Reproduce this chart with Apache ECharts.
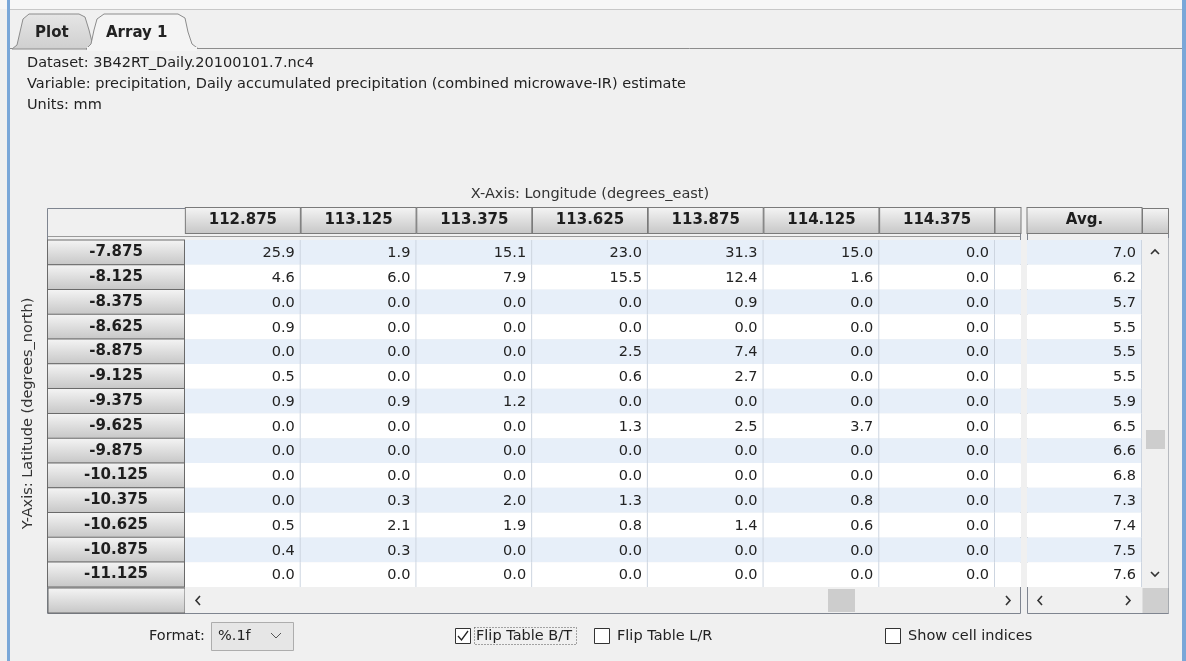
<!DOCTYPE html>
<html>
<head>
<meta charset="utf-8">
<script src="https://cdn.jsdelivr.net/npm/echarts@6/dist/echarts.min.js"></script>
<style>
html, body { margin: 0; padding: 0; background: #f0f0f0; }
#grafiek { width: 1186px; height: 661px; }
</style>
</head>
<body>
<div id="grafiek"></div>
<script>
// lengtegraden (kolommen) en breedtegraden (rijen)
let lengtes = ['112.875', '113.125', '113.375', '113.625', '113.875', '114.125', '114.375'];
let breedtes = ['-7.875', '-8.125', '-8.375', '-8.625', '-8.875', '-9.125', '-9.375',
    '-9.625', '-9.875', '-10.125', '-10.375', '-10.625', '-10.875', '-11.125'];

// neerslag in mm, een rij per breedtegraad
let neerslag = [
    [25.9, 1.9, 15.1, 23.0, 31.3, 15.0, 0.0],
    [4.6, 6.0, 7.9, 15.5, 12.4, 1.6, 0.0],
    [0.0, 0.0, 0.0, 0.0, 0.9, 0.0, 0.0],
    [0.9, 0.0, 0.0, 0.0, 0.0, 0.0, 0.0],
    [0.0, 0.0, 0.0, 2.5, 7.4, 0.0, 0.0],
    [0.5, 0.0, 0.0, 0.6, 2.7, 0.0, 0.0],
    [0.9, 0.9, 1.2, 0.0, 0.0, 0.0, 0.0],
    [0.0, 0.0, 0.0, 1.3, 2.5, 3.7, 0.0],
    [0.0, 0.0, 0.0, 0.0, 0.0, 0.0, 0.0],
    [0.0, 0.0, 0.0, 0.0, 0.0, 0.0, 0.0],
    [0.0, 0.3, 2.0, 1.3, 0.0, 0.8, 0.0],
    [0.5, 2.1, 1.9, 0.8, 1.4, 0.6, 0.0],
    [0.4, 0.3, 0.0, 0.0, 0.0, 0.0, 0.0],
    [0.0, 0.0, 0.0, 0.0, 0.0, 0.0, 0.0]
];

// gemiddelde per rij (kolom Avg.)
let gemiddelde = [7.0, 6.2, 5.7, 5.5, 5.5, 5.5, 5.9, 6.5, 6.6, 6.8, 7.3, 7.4, 7.5, 7.6];

let infoRegels = [
    'Dataset: 3B42RT_Daily.20100101.7.nc4',
    'Variable: precipitation, Daily accumulated precipitation (combined microwave-IR) estimate',
    'Units: mm'
];

const FONT = '"DejaVu Sans", Verdana, sans-serif';

function kopKleur() {
    return new echarts.graphic.LinearGradient(0, 0, 0, 1, [
        { offset: 0, color: '#f5f5f5' },
        { offset: 1, color: '#c6c6c6' }
    ]);
}

function kopLabel(breedte, hoogte) {
    return {
        fontFamily: FONT, fontWeight: 'bold', fontSize: 15, color: '#1e1e1e',
        width: breedte, height: hoogte, lineHeight: hoogte, align: 'center', verticalAlign: 'middle',
        backgroundColor: kopKleur(), borderColor: '#7a7a7a', borderWidth: 1
    };
}

// cellen met waarde rechts uitgelijnd en een dunne kolomlijn
function tekenCel(params, api) {
    let p = api.coord([api.value(0), api.value(1)]);
    let s = api.size([1, 1]);
    let rechts = p[0] + s[0] / 2;
    return {
        type: 'group',
        children: [
            { type: 'line', shape: { x1: rechts - 0.5, y1: p[1] - s[1] / 2, x2: rechts - 0.5, y2: p[1] + s[1] / 2 },
              style: { stroke: '#cdd5e0', lineWidth: 1 } },
            { type: 'text', style: { text: api.value(2).toFixed(1), x: rechts - 6, y: p[1] + 1,
              align: 'right', verticalAlign: 'middle', font: '14.5px ' + FONT, fill: '#222' } }
        ]
    };
}

function toonTabel() {
    let grafiek = echarts.init(document.getElementById('grafiek'), null, { renderer: 'canvas' });

    let cellen = [];
    neerslag.forEach((rij, r) => rij.forEach((v, k) => cellen.push([k, r, v])));
    let gemCellen = gemiddelde.map((v, r) => [0, r, v]);

    let strepen = { show: true, areaStyle: { color: ['#e7eff9', '#ffffff'], opacity: 1 } };
    let rijAs = (idx, labels, naam) => ({
        type: 'category', gridIndex: idx, data: breedtes, inverse: true,
        axisLine: { show: false }, axisTick: { show: false }, splitLine: { show: false },
        splitArea: Object.assign({ interval: 0 }, strepen),
        axisLabel: labels ? {
            margin: 1, interval: 0, showMinLabel: true, showMaxLabel: true, hideOverlap: false,
            formatter: v => '{k|' + v + '}',
            rich: { k: Object.assign(kopLabel(136, 24), { borderColor: '#6a6a6a' }) }
        } : { show: false },
        name: naam || '', nameLocation: 'middle', nameGap: 141, nameRotate: 90,
        nameTextStyle: { fontFamily: FONT, fontSize: 14.5, color: '#333' }
    });
    let kolomAs = (idx, data, breedte, naam) => ({
        type: 'category', gridIndex: idx, data: data, position: 'top',
        axisLine: { show: false }, axisTick: { show: false },
        axisLabel: { margin: 7, interval: 0, formatter: v => '{k|' + v + '}', rich: { k: kopLabel(breedte, 25) } },
        name: naam || '', nameLocation: 'middle', nameGap: 38,
        nameTextStyle: { fontFamily: FONT, fontSize: 14.5, color: '#333' }
    });

    let option = {
        backgroundColor: '#f0f0f0',
        animation: false,
        grid: [
            { left: 185, top: 240, width: 810, height: 347 },
            { left: 995, top: 240, width: 26, height: 347 },
            { left: 1027, top: 240, width: 115, height: 347 }
        ],
        xAxis: [
            kolomAs(0, lengtes, 114, 'X-Axis: Longitude (degrees_east)'),
            kolomAs(1, [''], 25),
            kolomAs(2, ['Avg.'], 114)
        ],
        yAxis: [
            rijAs(0, true, 'Y-Axis: Latitude (degrees_north)'),
            rijAs(1, false),
            rijAs(2, false)
        ],
        series: [
            { type: 'custom', xAxisIndex: 0, yAxisIndex: 0, data: cellen, renderItem: tekenCel, silent: true },
            { type: 'custom', xAxisIndex: 2, yAxisIndex: 2, data: gemCellen, renderItem: tekenCel, silent: true }
        ],
        graphic: maakOmlijsting()
    };
    grafiek.setOption(option);
}

// tabbladen, infotekst, schuifbalken en knoppen onderaan
function maakOmlijsting() {
    let tekst = (x, y, t, extra) => ({
        type: 'text', x: x, y: y,
        style: Object.assign({ text: t, font: '14.5px ' + FONT, fill: '#222', verticalAlign: 'middle' }, extra || {})
    });
    let vak = (x, y, w, h, fill, stroke) => ({
        type: 'rect', shape: { x: x, y: y, width: w, height: h },
        style: { fill: fill, stroke: stroke || null, lineWidth: 1 }
    });
    let lijn = (x1, y1, x2, y2, kleur) => ({
        type: 'line', shape: { x1: x1, y1: y1, x2: x2, y2: y2 }, style: { stroke: kleur, lineWidth: 1 }
    });
    let pijl = (punten) => ({
        type: 'polyline', shape: { points: punten }, style: { stroke: '#333', lineWidth: 1.6, fill: null }
    });
    let vinkje = (x, y, aan) => {
        let el = [vak(x + 0.5, y + 0.5, 15, 15, '#ffffff', '#333')];
        if (aan) el.push({ type: 'polyline', shape: { points: [[x + 3, y + 8], [x + 6.5, y + 12], [x + 13, y + 3]] },
            style: { stroke: '#222', lineWidth: 1.3, fill: null } });
        return el;
    };

    let els = [
        // bovenkant venster en blauwe randen
        vak(0, 0, 1186, 9, '#f7f7f7'),
        lijn(10, 9.5, 1182, 9.5, '#c8c8c8'),
        vak(7, 0, 3, 661, '#7aa7d8'),
        vak(1182, 0, 4, 661, '#7aa7d8'),
        // tabbladen
        { type: 'polygon', shape: { points: [[12, 49], [17, 45], [20, 32], [23, 19], [29, 14], [79, 14], [85, 17], [89, 30], [92, 42], [96, 49]] },
          style: { fill: new echarts.graphic.LinearGradient(0, 0, 0, 1, [{ offset: 0, color: '#e6e6e6' }, { offset: 1, color: '#cfcfcf' }]), stroke: '#8c8c8c' } },
        { type: 'polygon', shape: { points: [[86, 49], [91, 44], [94, 30], [97, 19], [104, 14], [178, 14], [185, 18], [188, 32], [192, 44], [198, 48.5]] },
          style: { fill: '#f4f4f4', stroke: '#8c8c8c' } },
        vak(87, 47, 110, 4, '#f4f4f4'),
        lijn(197, 48.5, 1182, 48.5, '#8c8c8c'),
        lijn(10, 48.5, 12, 48.5, '#8c8c8c'),
        tekst(35, 33, 'Plot', { font: 'bold 15px ' + FONT }),
        tekst(106, 33, 'Array 1', { font: 'bold 15px ' + FONT })
    ];
    infoRegels.forEach((r, i) => els.push(tekst(27, 63 + i * 21, r)));

    // buitenranden tabellen
    els.push(vak(47.5, 208.5, 973, 405, null, '#7f8590'));
    els.push(vak(1027.5, 208.5, 141, 405, null, '#7f8590'));
    els.push(lijn(48, 236.5, 1020, 236.5, '#9a9a9a'));
    els.push(vak(1142.5, 208.5, 26, 25, kopKleur(), '#7a7a7a'));

    // verticale schuifbalk naast Avg.
    els.push(vak(1142.5, 238, 26, 350, '#f0f0f0'));
    els.push(vak(1146, 430, 19, 19, '#cdcdcd'));
    els.push(pijl([[1151, 254], [1155, 250], [1159, 254]]));
    els.push(pijl([[1151, 572], [1155, 576], [1159, 572]]));

    // horizontale schuifbalken
    els.push(vak(48, 588, 137, 25, kopKleur(), '#6a6a6a'));
    els.push(vak(185, 588, 835, 25, '#f0f0f0'));
    els.push(vak(828, 589, 27, 23, '#cdcdcd'));
    els.push(pijl([[200, 596], [196, 600.5], [200, 605]]));
    els.push(pijl([[1006, 596], [1010, 600.5], [1006, 605]]));
    els.push(vak(1028, 588, 114, 25, '#f0f0f0'));
    els.push(pijl([[1042, 596], [1038, 600.5], [1042, 605]]));
    els.push(pijl([[1126, 596], [1130, 600.5], [1126, 605]]));
    els.push(vak(1142.5, 588, 26, 25, '#cfcfcf'));

    // knoppen onderaan
    els.push(tekst(205, 636, 'Format:', { align: 'right' }));
    els.push(vak(211.5, 622.5, 82, 28, '#e6e6e6', '#adadad'));
    els.push(tekst(218, 636, '%.1f'));
    els.push({ type: 'polyline', shape: { points: [[271, 633], [276, 638], [281, 633]] }, style: { stroke: '#555', fill: null } });
    els = els.concat(vinkje(455, 628, true));
    els.push(tekst(476, 636, 'Flip Table B/T'));
    els.push({ type: 'rect', shape: { x: 474.5, y: 627.5, width: 102, height: 17 },
        style: { fill: null, stroke: '#555', lineWidth: 1, lineDash: [1, 2] } });
    els = els.concat(vinkje(594, 628, false));
    els.push(tekst(617, 636, 'Flip Table L/R'));
    els = els.concat(vinkje(885, 628, false));
    els.push(tekst(908, 636, 'Show cell indices'));
    return els;
}

window.onload = function () {
    if (document.getElementById('grafiek')) {
        toonTabel();
    } else {
        console.error('Element #grafiek niet gevonden!');
    }
};
</script>
</body>
</html>
